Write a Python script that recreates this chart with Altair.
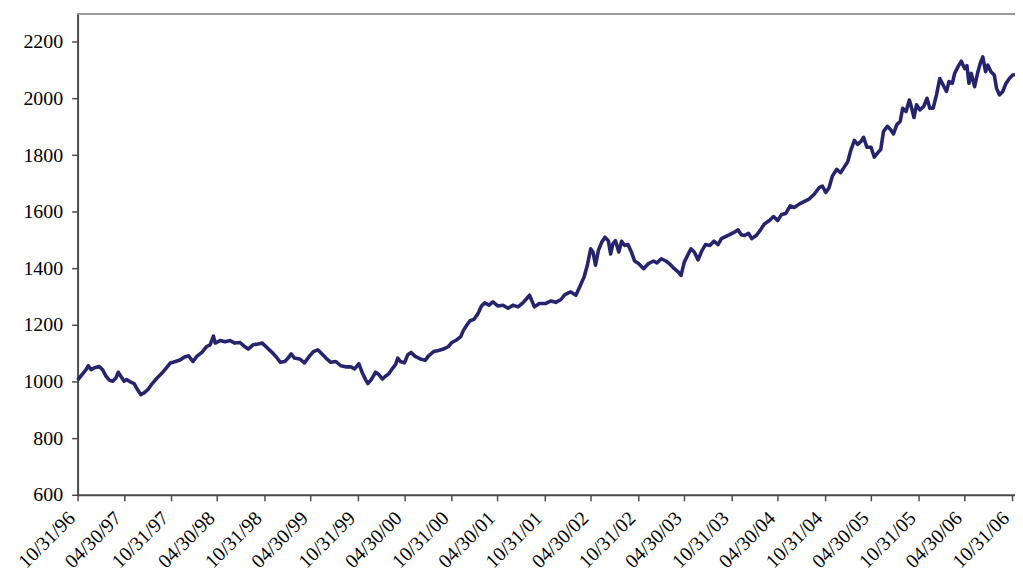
import altair as alt
import pandas as pd

dates = [
    "1996-10-31", "1996-11-14", "1996-12-03", "1996-12-12", "1996-12-23", "1997-01-05", "1997-01-24", "1997-02-06",
    "1997-02-19", "1997-03-04", "1997-03-17", "1997-03-30", "1997-04-08", "1997-04-18", "1997-05-01", "1997-05-11",
    "1997-05-27", "1997-06-09", "1997-06-22", "1997-07-05", "1997-07-18", "1997-08-02", "1997-08-19", "1997-09-07",
    "1997-09-27", "1997-10-10", "1997-10-29", "1997-11-18", "1997-12-07", "1997-12-23", "1998-01-08", "1998-01-25",
    "1998-02-09", "1998-03-01", "1998-03-20", "1998-04-02", "1998-04-15", "1998-04-22", "1998-05-11", "1998-05-31",
    "1998-06-19", "1998-07-08", "1998-07-28", "1998-08-12", "1998-08-29", "1998-09-17", "1998-10-07", "1998-10-23",
    "1998-11-08", "1998-11-27", "1998-12-17", "1999-01-02", "1999-01-19", "1999-02-01", "1999-02-13", "1999-02-26",
    "1999-03-18", "1999-04-06", "1999-04-23", "1999-05-11", "1999-05-28", "1999-06-10", "1999-06-29", "1999-07-18",
    "1999-08-07", "1999-08-26", "1999-09-14", "1999-10-04", "1999-10-19", "1999-11-05", "1999-11-18", "1999-12-01",
    "1999-12-10", "1999-12-23", "2000-01-09", "2000-01-22", "2000-02-04", "2000-02-17", "2000-03-01", "2000-03-14",
    "2000-03-27", "2000-04-05", "2000-04-15", "2000-05-01", "2000-05-14", "2000-05-27", "2000-06-12", "2000-07-02",
    "2000-07-21", "2000-08-03", "2000-08-23", "2000-09-11", "2000-09-30", "2000-10-20", "2000-11-02", "2000-11-21",
    "2000-12-07", "2000-12-17", "2000-12-31", "2001-01-12", "2001-01-28", "2001-02-13", "2001-02-26", "2001-03-11",
    "2001-03-28", "2001-04-12", "2001-05-02", "2001-05-21", "2001-06-10", "2001-06-29", "2001-07-19", "2001-08-07",
    "2001-09-02", "2001-09-21", "2001-10-10", "2001-11-05", "2001-11-25", "2001-12-14", "2002-01-03", "2002-01-16",
    "2002-01-22", "2002-02-10", "2002-03-02", "2002-03-17", "2002-04-03", "2002-04-16", "2002-04-29", "2002-05-08",
    "2002-05-18", "2002-05-29", "2002-06-11", "2002-06-24", "2002-07-07", "2002-07-16", "2002-07-25", "2002-08-04",
    "2002-08-17", "2002-08-28", "2002-09-09", "2002-09-22", "2002-10-05", "2002-10-18", "2002-11-02", "2002-11-22",
    "2002-12-11", "2002-12-31", "2003-01-13", "2003-01-30", "2003-02-17", "2003-03-06", "2003-03-22", "2003-04-07",
    "2003-04-17", "2003-04-30", "2003-05-13", "2003-05-26", "2003-06-08", "2003-06-23", "2003-07-07", "2003-07-22",
    "2003-08-08", "2003-08-24", "2003-09-09", "2003-09-22", "2003-10-08", "2003-10-24", "2003-11-10", "2003-11-26",
    "2003-12-09", "2003-12-22", "2004-01-06", "2004-01-19", "2004-02-05", "2004-02-22", "2004-03-08", "2004-03-28",
    "2004-04-13", "2004-04-29", "2004-05-14", "2004-05-31", "2004-06-17", "2004-07-03", "2004-07-22", "2004-08-04",
    "2004-08-30", "2004-09-19", "2004-10-08", "2004-10-21", "2004-11-03", "2004-11-16", "2004-11-29", "2004-12-16",
    "2004-12-31", "2005-01-13", "2005-01-28", "2005-02-08", "2005-02-23", "2005-03-08", "2005-03-21", "2005-03-31",
    "2005-04-13", "2005-04-29", "2005-05-12", "2005-05-25", "2005-06-06", "2005-06-17", "2005-07-02", "2005-07-15",
    "2005-07-26", "2005-08-08", "2005-08-21", "2005-08-31", "2005-09-13", "2005-09-26", "2005-10-05", "2005-10-14",
    "2005-10-24", "2005-11-06", "2005-11-21", "2005-12-04", "2005-12-15", "2005-12-28", "2006-01-10", "2006-01-23",
    "2006-02-05", "2006-02-18", "2006-02-28", "2006-03-13", "2006-03-22", "2006-04-04", "2006-04-17", "2006-04-30",
    "2006-05-09", "2006-05-17", "2006-05-26", "2006-06-08", "2006-06-21", "2006-06-30", "2006-07-10", "2006-07-21",
    "2006-07-30", "2006-08-11", "2006-08-24", "2006-09-02", "2006-09-13", "2006-09-26", "2006-10-09", "2006-10-22",
    "2006-11-04", "2006-11-13",
]

index_values = [
    1005, 1021, 1042, 1056, 1042, 1049, 1053, 1042, 1019, 1005, 1001, 1013, 1033, 1019, 1001, 1007,
    998, 993, 972, 954, 960, 972, 993, 1013, 1031, 1045, 1066, 1071, 1077, 1087, 1091, 1071,
    1089, 1103, 1124, 1130, 1161, 1136, 1145, 1141, 1145, 1136, 1138, 1126, 1115, 1130, 1133, 1136,
    1122, 1106, 1087, 1068, 1071, 1083, 1098, 1083, 1080, 1066, 1087, 1106, 1112, 1101, 1083, 1068,
    1071, 1056, 1052, 1052, 1045, 1063, 1031, 1007, 993, 1007, 1033, 1025, 1009, 1019, 1028, 1045,
    1060, 1083, 1071, 1066, 1095, 1103, 1089, 1080, 1075, 1091, 1106, 1110, 1115, 1124, 1138, 1147,
    1159, 1180, 1200, 1215, 1220, 1241, 1267, 1278, 1270, 1282, 1267, 1270, 1259, 1270, 1264, 1278,
    1305, 1264, 1276, 1276, 1285, 1280, 1290, 1305, 1309, 1317, 1305, 1334, 1369, 1411, 1469, 1458,
    1411, 1463, 1492, 1510, 1498, 1451, 1487, 1498, 1458, 1496, 1481, 1484, 1458, 1426, 1417, 1399,
    1417, 1426, 1419, 1434, 1426, 1414, 1399, 1387, 1375, 1422, 1446, 1469, 1458, 1430, 1461, 1484,
    1481, 1496, 1484, 1505, 1512, 1519, 1527, 1536, 1519, 1516, 1524, 1505, 1516, 1536, 1557, 1569,
    1583, 1569, 1590, 1594, 1621, 1615, 1627, 1633, 1645, 1662, 1685, 1691, 1668, 1685, 1726, 1750,
    1738, 1756, 1777, 1814, 1852, 1838, 1849, 1863, 1828, 1828, 1793, 1808, 1820, 1884, 1902, 1890,
    1875, 1908, 1919, 1966, 1954, 1995, 1966, 1933, 1978, 1960, 1972, 2001, 1966, 1966, 2013, 2071,
    2048, 2025, 2060, 2054, 2089, 2112, 2132, 2106, 2116, 2054, 2089, 2042, 2095, 2124, 2147, 2095,
    2118, 2095, 2083, 2036, 2013, 2025, 2054, 2071, 2083, 2085,
]

# half-year tick marks, labelled 10/31 and 04/30
tick_dates = [(1996, 10, 31)]
for yr in range(1997, 2007):
    tick_dates += [(yr, 4, 30), (yr, 10, 31)]
tick_values = [alt.DateTime(year=y, month=m, date=d, utc=True) for y, m, d in tick_dates]

y_ticks = [600, 800, 1000, 1200, 1400, 1600, 1800, 2000, 2200]

df = pd.DataFrame({"date": dates, "value": index_values})

font = "Times New Roman, Liberation Serif, serif"
axis_color = "#4a4a4a"

line = alt.Chart(df).mark_line(color="#25256e", strokeWidth=3.6, strokeJoin="round").encode(
    x=alt.X("date:T",
            scale=alt.Scale(type="utc",
                            domain=[alt.DateTime(year=1996, month=10, date=31, utc=True),
                                    alt.DateTime(year=2006, month=11, date=13, utc=True)],
                            nice=False),
            axis=alt.Axis(values=tick_values, format="%m/%d/%y", labelAngle=-45,
                          labelAlign="right", labelBaseline="middle",
                          labelOffset=-6, labelPadding=14,
                          labelFont=font, labelFontSize=20, labelColor="black",
                          tickSize=6, tickColor=axis_color, tickWidth=1.5,
                          domainColor=axis_color, domainWidth=2, grid=False,
                          labelOverlap=False, labelBound=False, title=None)),
    y=alt.Y("value:Q",
            scale=alt.Scale(domain=[600, 2300], nice=False, zero=False),
            axis=alt.Axis(values=y_ticks, format="d", labelFont=font, labelFontSize=20,
                          labelColor="black", labelPadding=9, tickSize=6, tickColor=axis_color,
                          tickWidth=1.5, domainColor=axis_color, domainWidth=2, grid=False,
                          title=None)),
)

# light frame along the top of the plot area
top_edge = alt.Chart(df).mark_rule(color="#9a9a9a", strokeWidth=1.5).encode(
    y=alt.datum(2300)
)

chart = alt.layer(top_edge, line).properties(
    width=943,
    height=484,
    autosize=alt.AutoSizeParams(type="none"),
    padding={"left": 70, "top": 4, "right": 0, "bottom": 80},
).configure_view(stroke=None)

chart.save("out.html", embed_options={"renderer": "svg", "actions": False})
